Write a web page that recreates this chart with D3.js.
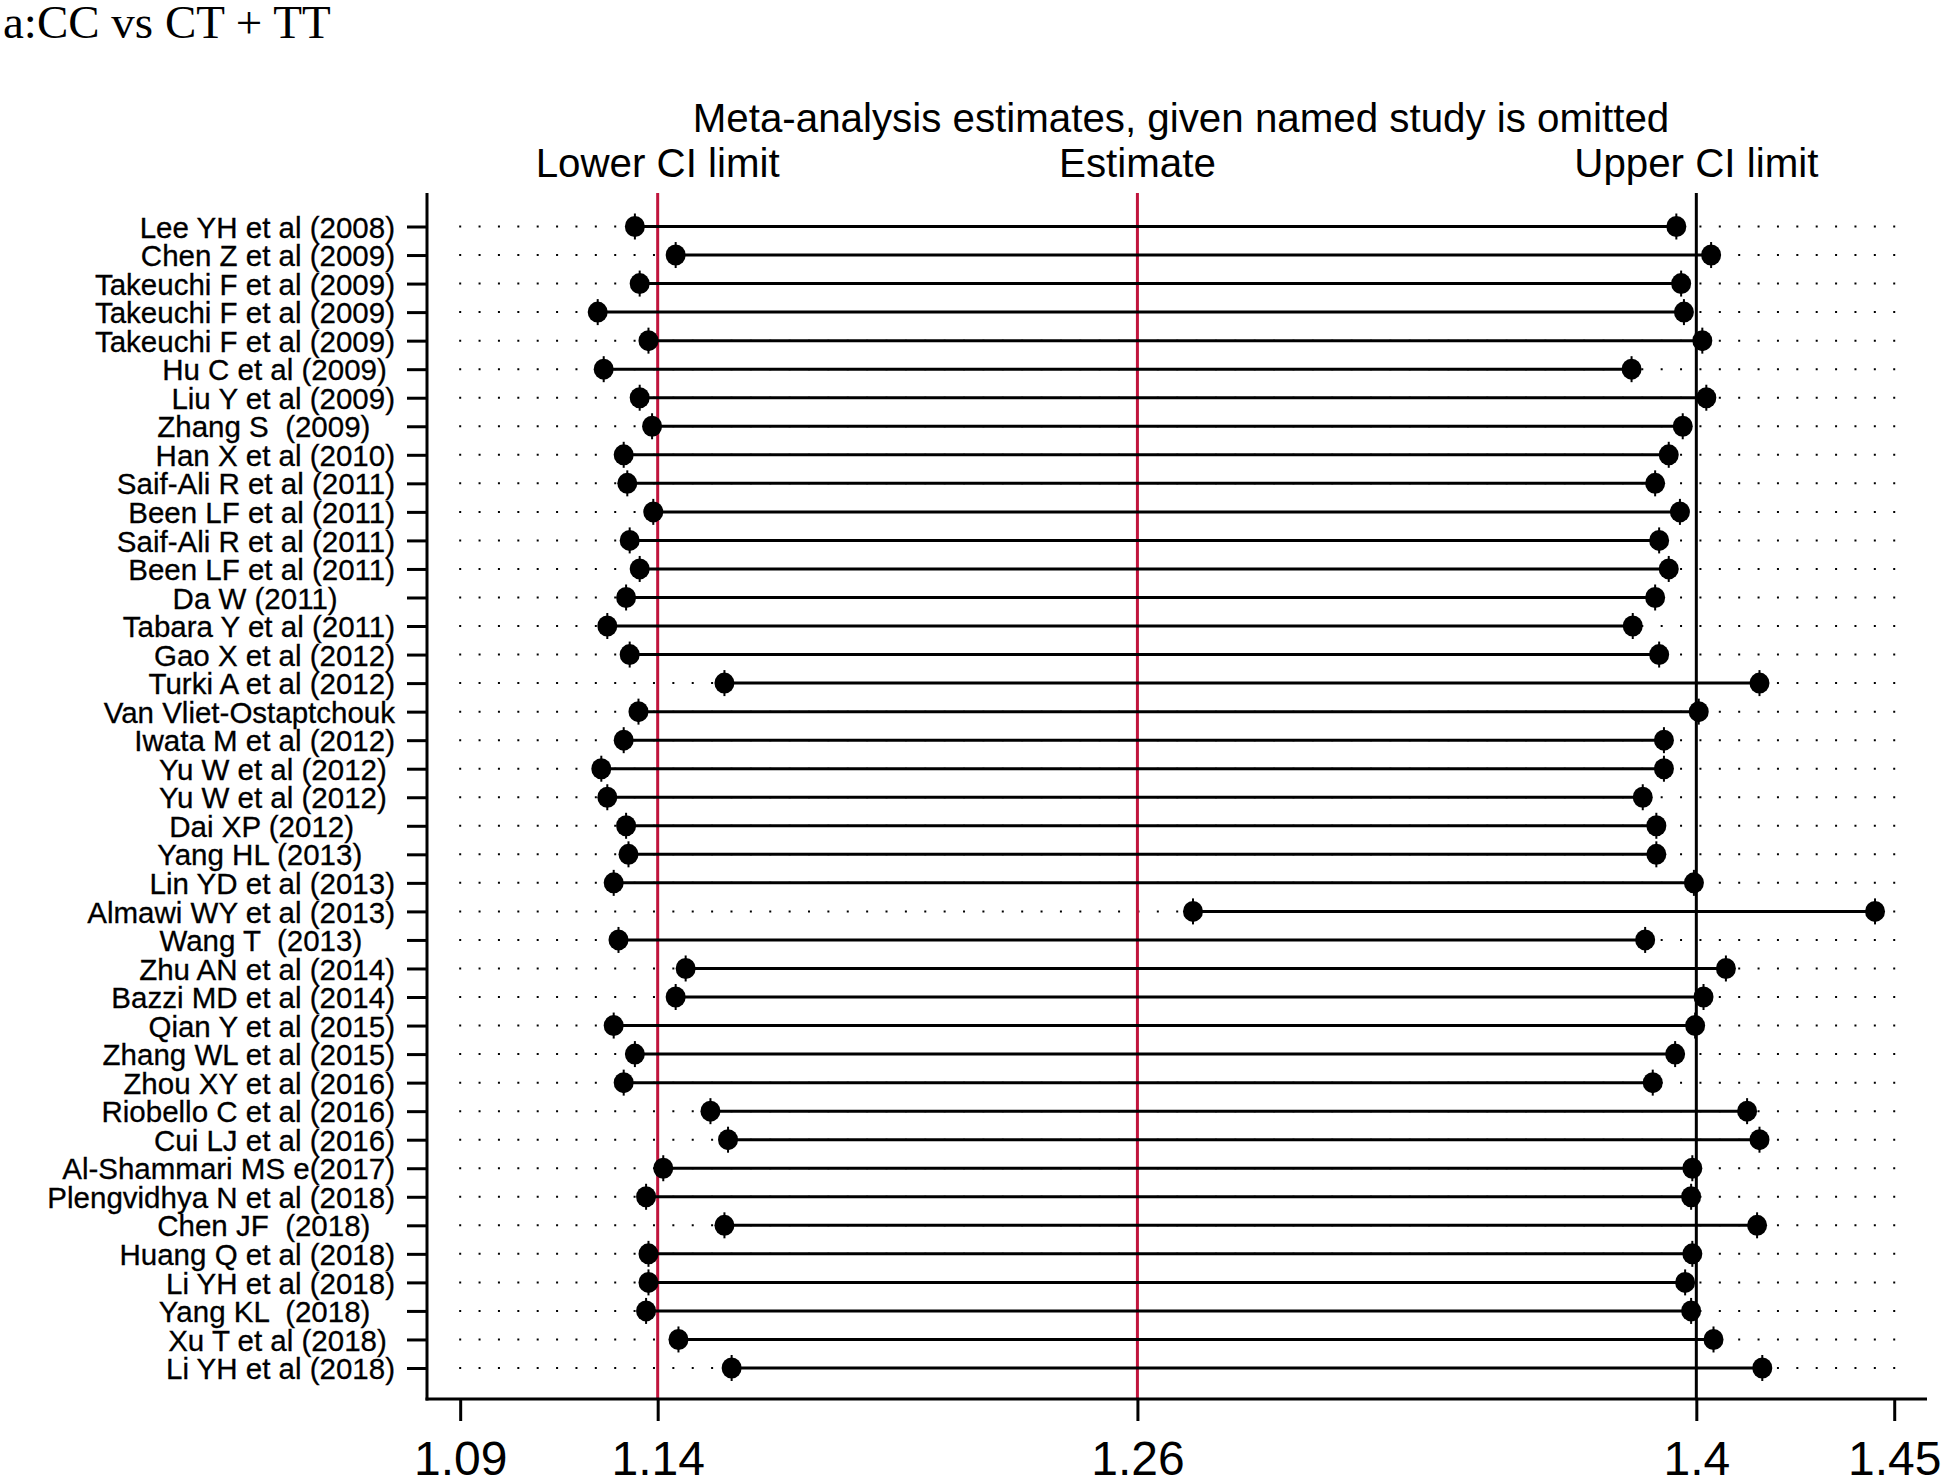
<!DOCTYPE html>
<html>
<head>
<meta charset="utf-8">
<script src="https://cdn.jsdelivr.net/npm/d3@7"></script>
<style>
  html, body { margin: 0; padding: 0; background: #fff; }
  svg { display: block; }
  text { font-family: "Liberation Sans", Arial, sans-serif; fill: #000; }
</style>
</head>
<body>
<svg id="chart" width="1948" height="1482"></svg>
<script>
// ---------- data ----------
const studies = [
  "Lee YH et al (2008)",
  "Chen Z et al (2009)",
  "Takeuchi F et al (2009)",
  "Takeuchi F et al (2009)",
  "Takeuchi F et al (2009)",
  "Hu C et al (2009) ",
  "Liu Y et al (2009)",
  "Zhang S  (2009)   ",
  "Han X et al (2010)",
  "Saif-Ali R et al (2011)",
  "Been LF et al (2011)",
  "Saif-Ali R et al (2011)",
  "Been LF et al (2011)",
  "Da W (2011)       ",
  "Tabara Y et al (2011)",
  "Gao X et al (2012)",
  "Turki A et al (2012)",
  "Van Vliet-Ostaptchouk",
  "Iwata M et al (2012)",
  "Yu W et al (2012) ",
  "Yu W et al (2012) ",
  "Dai XP (2012)     ",
  "Yang HL (2013)    ",
  "Lin YD et al (2013)",
  "Almawi WY et al (2013)",
  "Wang T  (2013)    ",
  "Zhu AN et al (2014)",
  "Bazzi MD et al (2014)",
  "Qian Y et al (2015)",
  "Zhang WL et al (2015)",
  "Zhou XY et al (2016)",
  "Riobello C et al (2016)",
  "Cui LJ et al (2016)",
  "Al-Shammari MS e(2017)",
  "Plengvidhya N et al (2018)",
  "Chen JF  (2018)   ",
  "Huang Q et al (2018)",
  "Li YH et al (2018)",
  "Yang KL  (2018)   ",
  "Xu T et al (2018) ",
  "Li YH et al (2018)"
];

const lowerCI = [
  1.1343, 1.1445, 1.1355, 1.1250, 1.1377, 1.1265, 1.1355, 1.1386, 1.1315, 1.1324,
  1.1389, 1.1330, 1.1355, 1.1321, 1.1274, 1.1330, 1.1567, 1.1352, 1.1315, 1.1259,
  1.1274, 1.1321, 1.1327, 1.1290, 1.2739, 1.1302, 1.1470, 1.1445, 1.1290, 1.1343,
  1.1315, 1.1532, 1.1576, 1.1414, 1.1371, 1.1567, 1.1377, 1.1377, 1.1371, 1.1452,
  1.1585
];

const upperCI = [
  1.3948, 1.4035, 1.3960, 1.3967, 1.4013, 1.3836, 1.4023, 1.3964, 1.3929, 1.3895,
  1.3957, 1.3905, 1.3929, 1.3895, 1.3839, 1.3905, 1.4156, 1.4004, 1.3917, 1.3917,
  1.3864, 1.3898, 1.3898, 1.3992, 1.4445, 1.3870, 1.4072, 1.4016, 1.3995, 1.3945,
  1.3889, 1.4125, 1.4156, 1.3988, 1.3985, 1.4150, 1.3988, 1.3970, 1.3985, 1.4041,
  1.4163
];

// combined estimate and its CI (reference lines)
const overallLower = 1.14;
const overallEstimate = 1.26;
const overallUpper = 1.3998;

const xTickValues = [1.0906, 1.14, 1.26, 1.3998, 1.4493];
const xTickLabels = ["1.09", "1.14", "1.26", "1.4", "1.45"];

const refLabels = ["Lower CI limit", "Estimate", "Upper CI limit"];
const headerText = "Meta-analysis estimates, given named study is omitted";
const panelTitle = "a:CC vs CT + TT";

// ---------- layout ----------
const plotLeft = 427, plotRight = 1927, plotTop = 193, plotBottom = 1399;
const RED = "#c0143c";

const svg = d3.select("#chart");

const x = d3.scaleLinear().domain([1.0823, 1.4575]).range([plotLeft, plotRight]);
const y = d3.scalePoint().domain(d3.range(studies.length)).range([226.5, 1368]);

const rows = studies.map((s, i) => ({ i, name: s, lo: lowerCI[i], hi: upperCI[i] }));

// title
svg.append("text")
  .attr("x", 3).attr("y", 38)
  .style("font-family", "'Liberation Serif', 'Times New Roman', serif")
  .style("font-size", "47px")
  .text(panelTitle);

// header
svg.append("text")
  .attr("x", 1181).attr("y", 132)
  .attr("text-anchor", "middle")
  .style("font-size", "40.3px")
  .text(headerText);

const refVals = [overallLower, overallEstimate, overallUpper];
svg.selectAll("text.ref").data(refVals).join("text")
  .attr("class", "ref")
  .attr("x", d => x(d)).attr("y", 177)
  .attr("text-anchor", "middle")
  .style("font-size", "40.3px")
  .text((d, i) => refLabels[i]);

// dotted guide lines per row
const dotStart = x(xTickValues[0]), dotEnd = x(xTickValues[xTickValues.length - 1]);
const nDots = 74;
const gap = (dotEnd - dotStart) / nDots;
svg.append("g").selectAll("line").data(rows).join("line")
  .attr("x1", dotStart - 1).attr("x2", dotEnd + 1.5)
  .attr("y1", d => y(d.i)).attr("y2", d => y(d.i))
  .attr("stroke", "#000").attr("stroke-width", 2)
  .attr("stroke-dasharray", `2 ${gap - 2}`);

// reference vertical lines
svg.append("g").selectAll("line").data(refVals).join("line")
  .attr("x1", d => x(d)).attr("x2", d => x(d))
  .attr("y1", plotTop).attr("y2", plotBottom)
  .attr("stroke", (d, i) => i < 2 ? RED : "#000")
  .attr("stroke-width", 3);

// CI segments
svg.append("g").selectAll("line").data(rows).join("line")
  .attr("x1", d => x(d.lo)).attr("x2", d => x(d.hi))
  .attr("y1", d => y(d.i)).attr("y2", d => y(d.i))
  .attr("stroke", "#000").attr("stroke-width", 3);

// markers
const pts = [];
rows.forEach(r => { pts.push({ i: r.i, v: r.lo }); pts.push({ i: r.i, v: r.hi }); });
const mk = svg.append("g").selectAll("g").data(pts).join("g")
  .attr("transform", d => `translate(${x(d.v)},${y(d.i)})`);
mk.append("ellipse").attr("rx", 10).attr("ry", 10.5).attr("fill", "#000");
mk.append("line").attr("x1", 0).attr("x2", 0).attr("y1", -13).attr("y2", 13)
  .attr("stroke", "#000").attr("stroke-width", 2);

// left axis
const yAxis = d3.axisLeft(y).tickSize(20).tickPadding(12).tickFormat(i => studies[i]);
const gy = svg.append("g").attr("transform", `translate(${plotLeft},0)`).call(yAxis);
gy.select(".domain").remove();
gy.selectAll(".tick line").attr("stroke", "#000").attr("stroke-width", 3);
gy.selectAll(".tick text")
  .attr("xml:space", "preserve")
  .style("white-space", "pre")
  .style("font-size", "29.5px")
  .style("stroke", "#000")
  .style("stroke-width", "0.3px")
  .attr("dy", "0.36em");
svg.append("line")
  .attr("x1", plotLeft).attr("x2", plotLeft)
  .attr("y1", plotTop).attr("y2", plotBottom + 1.5)
  .attr("stroke", "#000").attr("stroke-width", 3);

// bottom axis
const xAxis = d3.axisBottom(x).tickValues(xTickValues).tickSize(22).tickPadding(20)
  .tickFormat((d, i) => xTickLabels[i]);
const gx = svg.append("g").attr("transform", `translate(0,${plotBottom})`).call(xAxis);
gx.select(".domain").remove();
gx.selectAll(".tick line").attr("stroke", "#000").attr("stroke-width", 3);
gx.selectAll(".tick text").style("font-size", "48px");
svg.append("line")
  .attr("x1", plotLeft - 1.5).attr("x2", plotRight)
  .attr("y1", plotBottom).attr("y2", plotBottom)
  .attr("stroke", "#000").attr("stroke-width", 3);
</script>
</body>
</html>
